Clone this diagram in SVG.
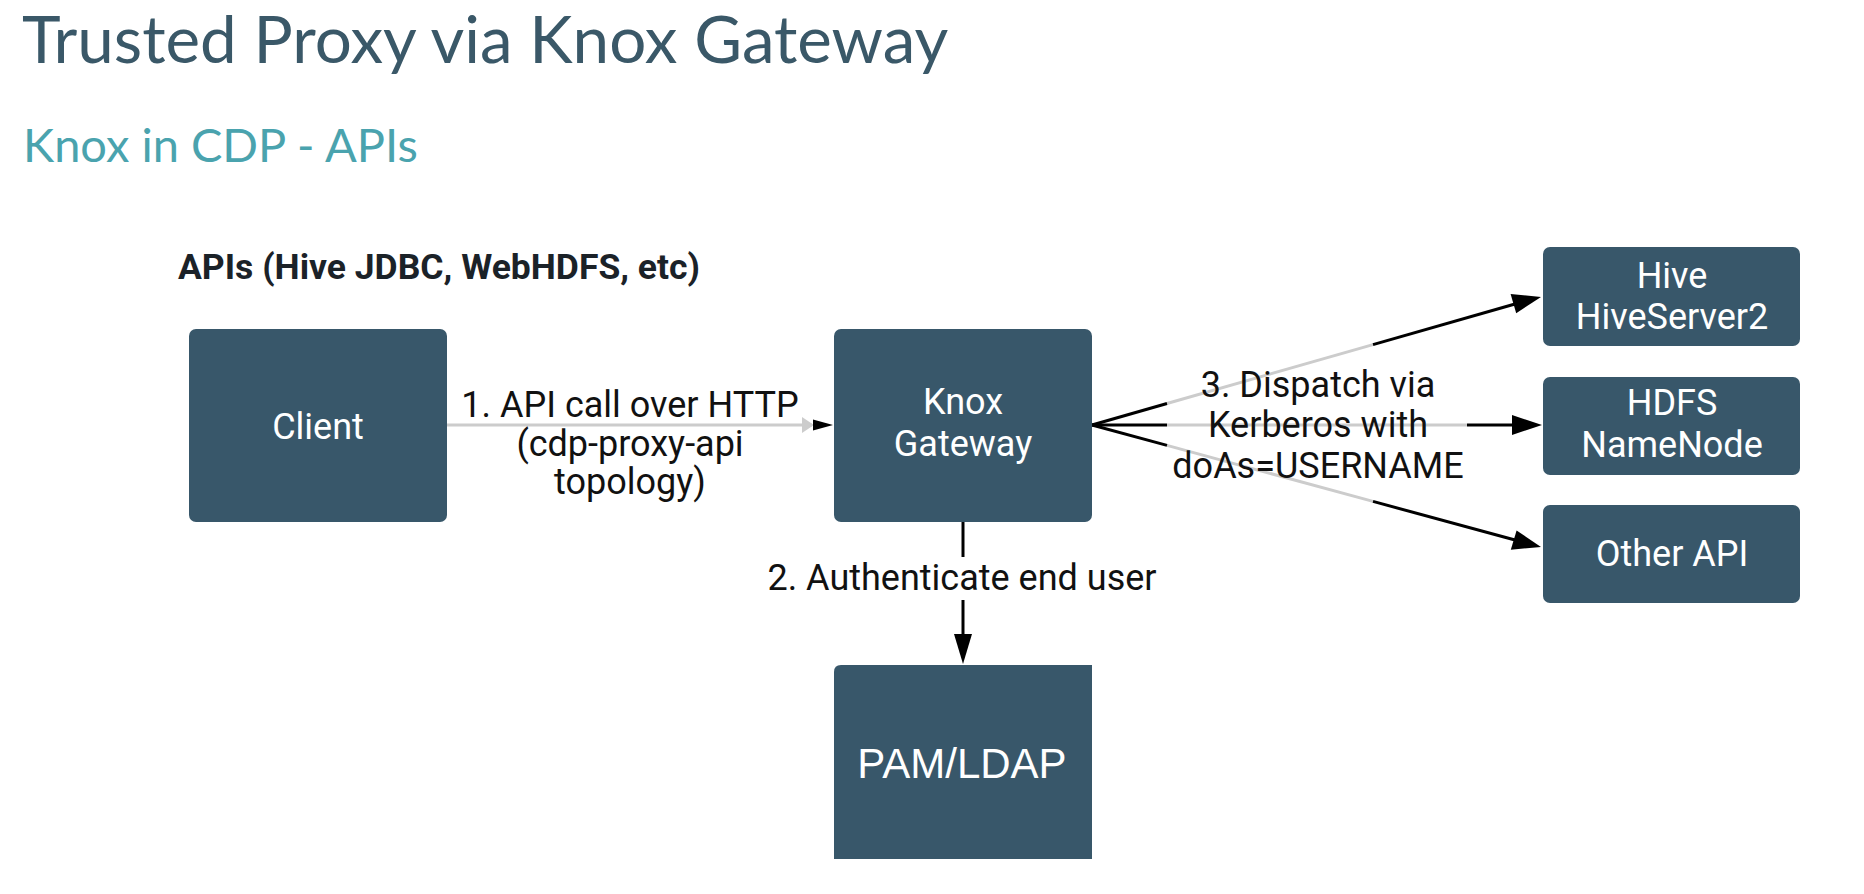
<svg xmlns="http://www.w3.org/2000/svg" width="1864" height="894" viewBox="0 0 1864 894">
<defs>
<style>
.title{font-family:Lato,"Liberation Sans",sans-serif;font-size:65.5px;fill:#3a5868}
.sub{font-family:Lato,"Liberation Sans",sans-serif;font-size:47px;fill:#4aa3ae}
.hdr{font-family:Roboto,"Liberation Sans",sans-serif;font-size:35.5px;font-weight:bold;fill:#1b2228}
.box{fill:#38576a}
.bt{font-family:Roboto,"Liberation Sans",sans-serif;font-size:36px;fill:#ffffff;text-anchor:middle}
.lbl{font-family:Roboto,"Liberation Sans",sans-serif;font-size:36px;fill:#111111;text-anchor:middle}
.grey{stroke:#cccccc;stroke-width:3;fill:none}
.blk{stroke:#000000;stroke-width:3;fill:none}
</style>
</defs>
<rect width="1864" height="894" fill="#ffffff"/>
<text class="title" x="22" y="63">Trusted Proxy via Knox Gateway</text>
<text class="sub" x="23" y="162">Knox in CDP - APIs</text>
<text class="hdr" x="178" y="279">APIs (Hive JDBC, WebHDFS, etc)</text>

<g id="connectors">
<line class="grey" x1="447" y1="425" x2="812" y2="425"/>
<path d="M802,417 L814,425 L802,433 Z" fill="#cccccc"/>
<path d="M813,419.5 L833,425 L813,430.5 Z" fill="#000"/>
<line class="blk" x1="963" y1="522" x2="963" y2="557"/>
<line class="blk" x1="963" y1="600" x2="963" y2="636"/>
<path d="M954,634 L972,634 L963,664 Z" fill="#000"/>
<line class="grey" x1="1167" y1="403.5" x2="1373" y2="344.6"/>
<line class="blk" x1="1092" y1="425" x2="1167" y2="403.5"/>
<line class="blk" x1="1373" y1="344.6" x2="1515" y2="304"/>
<path d="M1510.6,293.9 L1541,297 L1516.2,313.2 Z" fill="#000"/>
<line class="grey" x1="1167" y1="425" x2="1467" y2="425"/>
<line class="blk" x1="1092" y1="425" x2="1167" y2="425"/>
<line class="blk" x1="1467" y1="425" x2="1515" y2="425"/>
<path d="M1512,415 L1542,425 L1512,435 Z" fill="#000"/>
<line class="grey" x1="1167" y1="445.4" x2="1373" y2="501.4"/>
<line class="blk" x1="1092" y1="425" x2="1167" y2="445.4"/>
<line class="blk" x1="1373" y1="501.4" x2="1515" y2="540"/>
<path d="M1516.6,530.4 L1541,547 L1510.8,549.7 Z" fill="#000"/>
</g>

<g id="labels">
<text class="lbl" x="630" y="417">1. API call over HTTP</text>
<text class="lbl" x="630" y="456">(cdp-proxy-api</text>
<text class="lbl" x="630" y="494">topology)</text>
<text class="lbl" x="962" y="590">2. Authenticate end user</text>
<text class="lbl" x="1318" y="397">3. Dispatch via</text>
<text class="lbl" x="1318" y="437">Kerberos with</text>
<text class="lbl" x="1318" y="478">doAs=USERNAME</text>
</g>

<g id="client">
<rect class="box" x="189" y="329" width="258" height="193" rx="7"/>
<text class="bt" x="318" y="439">Client</text>
</g>
<g id="knox">
<rect class="box" x="834" y="329" width="258" height="193" rx="7"/>
<text class="bt" x="963" y="414">Knox</text>
<text class="bt" x="963" y="456">Gateway</text>
</g>
<g id="pam">
<path class="box" d="M834,672 Q834,665 841,665 L1092,665 L1092,859 L834,859 Z"/>
<text class="bt" x="962" y="778" style="font-family:'Liberation Sans',Arial,sans-serif;font-size:42px">PAM/LDAP</text>
</g>
<g id="hive">
<rect class="box" x="1543" y="247" width="257" height="99" rx="7"/>
<text class="bt" x="1672" y="288">Hive</text>
<text class="bt" x="1672" y="329">HiveServer2</text>
</g>
<g id="hdfs">
<rect class="box" x="1543" y="377" width="257" height="98" rx="7"/>
<text class="bt" x="1672" y="415">HDFS</text>
<text class="bt" x="1672" y="457">NameNode</text>
</g>
<g id="other">
<rect class="box" x="1543" y="505" width="257" height="98" rx="7"/>
<text class="bt" x="1672" y="566">Other API</text>
</g>
</svg>
